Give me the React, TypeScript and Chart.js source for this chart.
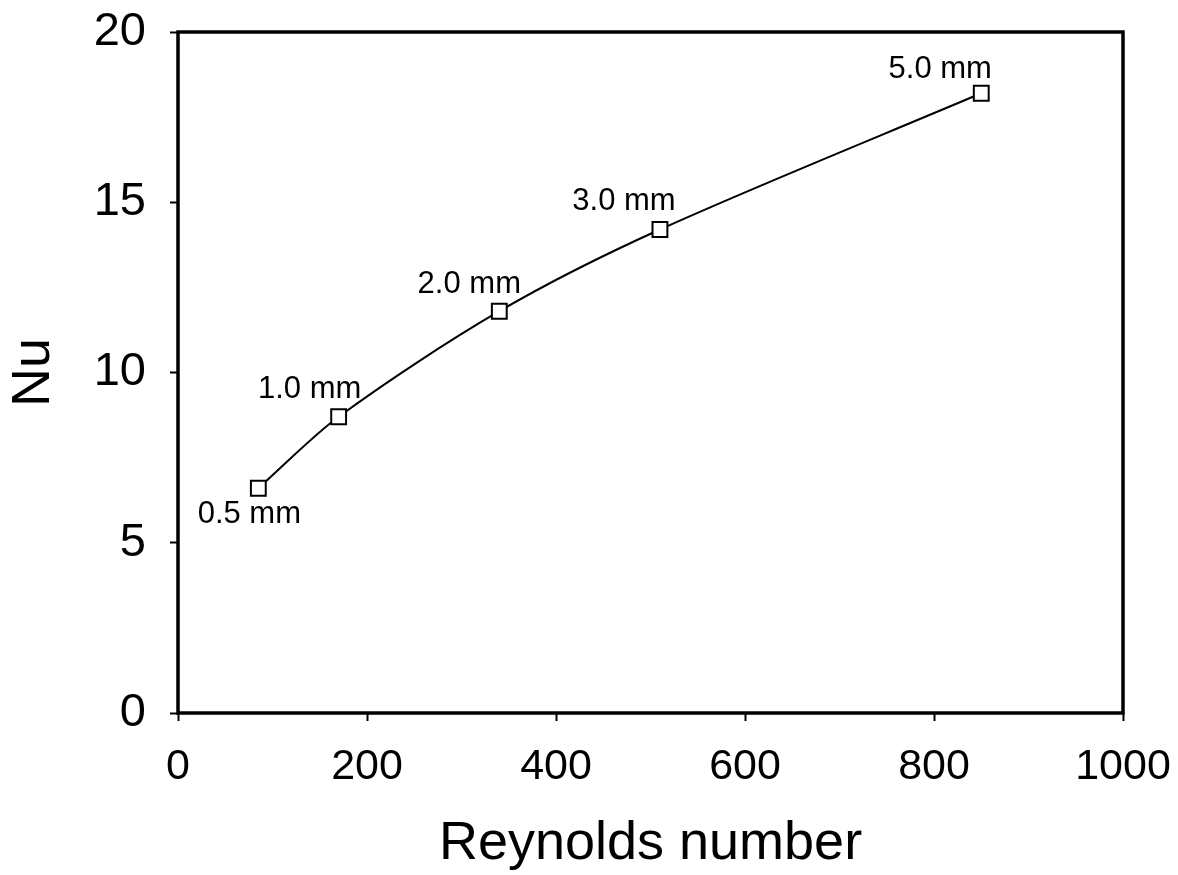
import React, { useEffect, useRef } from "react";
import { Chart, registerables } from "chart.js";

Chart.register(...registerables);

const reynolds: number[] = [85, 170, 340, 510, 850];
const nusselt: number[] = [6.6, 8.7, 11.8, 14.2, 18.2];
const pointLabels: string[] = ["0.5 mm", "1.0 mm", "2.0 mm", "3.0 mm", "5.0 mm"];
const xTitle = "Reynolds number";
const yTitle = "Nu";

// label placement relative to each marker (style only)
const labelOffsets: [number, number][] = [
  [-9, 26],
  [-29, -27],
  [-30, -27],
  [-36, -28],
  [-41, -24],
];

const FONT = "'Liberation Sans', Arial, sans-serif";

const boxPlugin = {
  id: "boxAndLabels",
  afterDatasetsDraw(chart: any) {
    const { ctx, chartArea } = chart;
    ctx.save();
    ctx.strokeStyle = "#000";
    ctx.lineWidth = 3.5;
    ctx.strokeRect(
      chartArea.left,
      chartArea.top,
      chartArea.right - chartArea.left,
      chartArea.bottom - chartArea.top
    );
    const meta = chart.getDatasetMeta(0);
    ctx.fillStyle = "#000";
    ctx.font = `31px ${FONT}`;
    ctx.textAlign = "center";
    ctx.textBaseline = "middle";
    meta.data.forEach((pt: any, i: number) => {
      const off = labelOffsets[i] || [0, 0];
      ctx.fillText(pointLabels[i], pt.x + off[0], pt.y + off[1]);
    });
    ctx.restore();
  },
};

const zeroPad = (s: any) => {
  s.paddingTop = 0;
  s.paddingBottom = 0;
  s.paddingLeft = 0;
  s.paddingRight = 0;
};

export default function App() {
  const ref = useRef<HTMLCanvasElement | null>(null);

  useEffect(() => {
    if (!ref.current) return;
    const chart = new Chart(ref.current, {
      type: "line",
      data: {
        datasets: [
          {
            data: reynolds.map((x, i) => ({ x, y: nusselt[i] })),
            borderColor: "#000",
            borderWidth: 2,
            tension: 0.3,
            pointStyle: "rect",
            pointRadius: 10.5,
            pointBackgroundColor: "#fff",
            pointBorderColor: "#000",
            pointBorderWidth: 2,
            fill: false,
          },
        ],
      },
      options: {
        animation: false,
        responsive: false,
        layout: { padding: { left: 0, top: 32, right: 55, bottom: 0 } },
        plugins: {
          legend: { display: false },
          tooltip: { enabled: false },
        },
        scales: {
          x: {
            type: "linear",
            min: 0,
            max: 1000,
            afterFit: (s: any) => {
              s.height = 162;
              zeroPad(s);
            },
            ticks: {
              stepSize: 200,
              autoSkip: false,
              maxRotation: 0,
              color: "#000",
              padding: 20,
              font: { family: FONT, size: 43 },
              callback: (v: any) => String(v),
            },
            grid: {
              drawOnChartArea: false,
              drawTicks: true,
              tickLength: 8,
              tickWidth: 2,
              tickColor: "#000",
            },
            border: { display: false },
            title: {
              display: true,
              text: xTitle,
              color: "#000",
              font: { family: FONT, size: 54, lineHeight: 1 },
              padding: { top: 0, bottom: 4 },
            },
          },
          y: {
            type: "linear",
            min: 0,
            max: 20,
            afterFit: (s: any) => {
              s.width = 178;
              zeroPad(s);
            },
            ticks: {
              stepSize: 5,
              color: "#000",
              padding: 24,
              font: { family: FONT, size: 47 },
              callback: (v: any) => String(v),
            },
            grid: {
              drawOnChartArea: false,
              drawTicks: true,
              tickLength: 8,
              tickWidth: 2,
              tickColor: "#000",
            },
            border: { display: false },
            title: {
              display: true,
              text: yTitle,
              color: "#000",
              font: { family: FONT, size: 54, lineHeight: 1 },
              padding: { top: 7.5, bottom: 0 },
            },
          },
        },
      },
      plugins: [boxPlugin],
    } as any);
    return () => chart.destroy();
  }, []);

  return (
    <div style={{ position: "fixed", left: 0, top: 0, width: 1178, height: 875, background: "#fff" }}>
      <canvas ref={ref} width={1178} height={875} />
    </div>
  );
}
